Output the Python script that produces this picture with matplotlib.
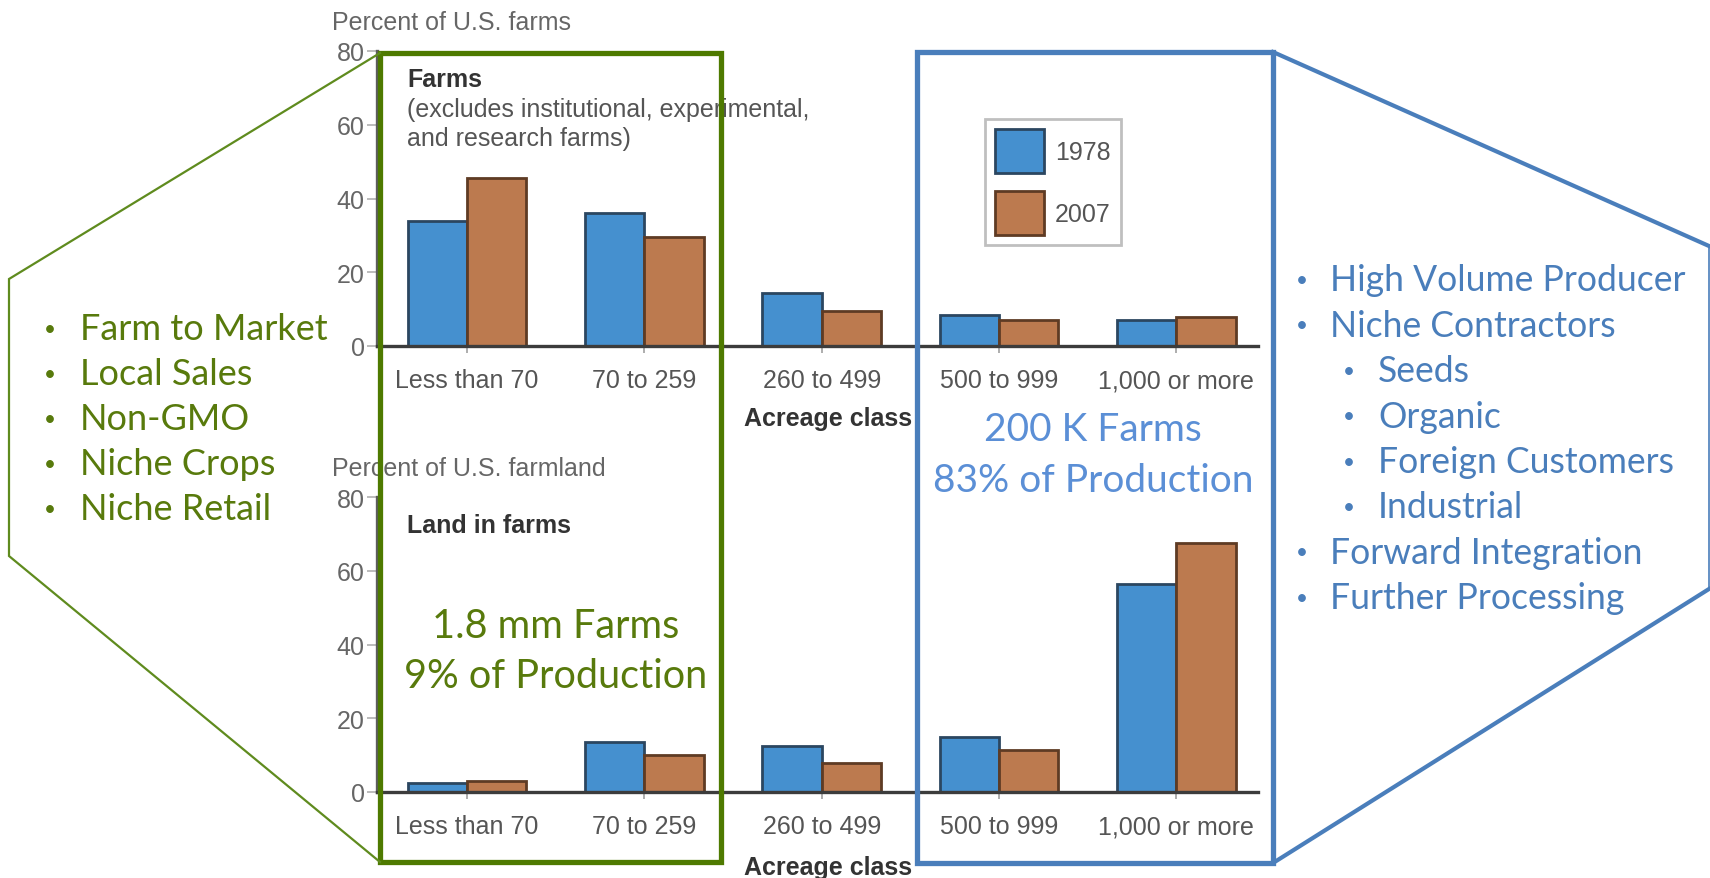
import numpy as np
import matplotlib.pyplot as plt
from matplotlib.patches import Patch, Rectangle
from matplotlib.lines import Line2D

# canvas size in pixels
W, H = 1710, 879

categories = ["Less than 70", "70 to 259", "260 to 499", "500 to 999", "1,000 or more"]
years = ["1978", "2007"]
farms_1978 = [34, 36, 14.5, 8.5, 7]
farms_2007 = [45.5, 29.5, 9.5, 7, 8]
land_1978 = [2.5, 13.5, 12.5, 15, 56.5]
land_2007 = [3, 10, 8, 11.5, 67.5]
yticks = [0, 20, 40, 60, 80]

small_points = ["Farm to Market", "Local Sales", "Non-GMO", "Niche Crops", "Niche Retail"]
large_points = ["High Volume Producer", "Niche Contractors", "Seeds", "Organic",
                "Foreign Customers", "Industrial", "Forward Integration", "Further Processing"]
large_levels = [0, 0, 1, 1, 1, 1, 0, 0]

BLUE, BLUE_EDGE = "#4590cf", "#2b4660"
BROWN, BROWN_EDGE = "#bc7a4f", "#5e3b24"
GREEN = "#4e7a00"
GREEN_TXT = "#587a0c"
NAVY = "#4a7ebb"
LIGHT_BLUE_TXT = "#5b8fd6"
CHART_FONT = "Liberation Sans"
SLIDE_FONT = "Lato"
FS = 18

fig = plt.figure(figsize=(W / 100, H / 100), dpi=100)


def fx(x):
    return x / W


def fy(y):
    return 1 - y / H


def panel(top, bottom, v1, v2, ylabel, xlabel_pad):
    ax = fig.add_axes([fx(377), fy(bottom), (1258 - 377) / W, (bottom - top) / H])
    x = np.arange(len(categories))
    w = 0.335
    ax.bar(x - w / 2, v1, w, color=BLUE, edgecolor=BLUE_EDGE, linewidth=2, label=years[0])
    ax.bar(x + w / 2, v2, w, color=BROWN, edgecolor=BROWN_EDGE, linewidth=2, label=years[1])
    ax.set_xlim(-0.508, 4.461)
    ax.set_ylim(0, 80)
    ax.set_yticks(yticks)
    ax.set_xticks(x)
    ax.set_xticklabels(categories)
    for s in ["top", "right"]:
        ax.spines[s].set_visible(False)
    ax.spines["left"].set_color("#5c5c5c")
    ax.spines["left"].set_linewidth(2.4)
    ax.spines["bottom"].set_color("#3c3c3c")
    ax.spines["bottom"].set_linewidth(2.4)
    ax.tick_params(axis="y", length=7, width=1.2, color="#b0b0b0", pad=2,
                   labelsize=FS, labelcolor="#666666")
    ax.tick_params(axis="x", length=5, width=1.2, color="#a0a0a0", pad=11,
                   labelsize=FS, labelcolor="#555555")
    for t in ax.get_xticklabels() + ax.get_yticklabels():
        t.set_fontfamily(CHART_FONT)
    ax.set_xlabel("Acreage class", fontsize=FS, fontweight="bold", color="#333333",
                  fontfamily=CHART_FONT, x=0.512, labelpad=xlabel_pad)
    ax.text(-0.051, 1.098, ylabel, transform=ax.transAxes, ha="left", va="center",
            fontsize=FS, color="#666666", fontfamily=CHART_FONT)
    ax.patch.set_alpha(0)
    return ax


ax1 = panel(52, 347, farms_1978, farms_2007, "Percent of U.S. farms", 10)
ax2 = panel(498, 793, land_1978, land_2007, "Percent of U.S. farmland", 12)

ax1.text(0.034, 0.905, "Farms", transform=ax1.transAxes, fontsize=FS, fontweight="bold",
         color="#333333", fontfamily=CHART_FONT, va="center")
ax1.text(0.034, 0.753, "(excludes institutional, experimental,\nand research farms)",
         transform=ax1.transAxes, fontsize=FS, color="#555555", fontfamily=CHART_FONT,
         va="center", linespacing=1.25)
ax2.text(0.034, 0.905, "Land in farms", transform=ax2.transAxes, fontsize=FS,
         fontweight="bold", color="#333333", fontfamily=CHART_FONT, va="center")

handles = [Patch(facecolor=BLUE, edgecolor=BLUE_EDGE, linewidth=2, label=years[0]),
           Patch(facecolor=BROWN, edgecolor=BROWN_EDGE, linewidth=2, label=years[1])]
leg = ax1.legend(handles=handles, loc="upper left", bbox_to_anchor=(fx(985), fy(120)),
                 bbox_transform=fig.transFigure, fancybox=False, frameon=True,
                 prop={"family": CHART_FONT, "size": FS}, handlelength=1.95,
                 handleheight=2.35, labelspacing=0.7, borderpad=0.4,
                 handletextpad=0.45, borderaxespad=0)
leg.get_frame().set_edgecolor("#b0b0b0")
leg.get_frame().set_linewidth(2)
for t in leg.get_texts():
    t.set_color("#555555")


def line(xs, ys, color, lw):
    fig.add_artist(Line2D([fx(v) for v in xs], [fy(v) for v in ys], color=color,
                          linewidth=lw, transform=fig.transFigure, zorder=5,
                          solid_joinstyle="miter"))


def box(x0, y0, x1, y1, color, lw):
    fig.add_artist(Rectangle((fx(x0), fy(y1)), fx(x1) - fx(x0), fy(y0) - fy(y1),
                             fill=False, edgecolor=color, linewidth=lw,
                             transform=fig.transFigure, zorder=5))


# outline around the small-farm groups and its callout
box(380, 54, 721, 863, GREEN, 3.8)
line([380, 9, 9, 380], [54, 280, 557, 863], "#5f8b1e", 1.6)

# outline around the large-farm groups and its callout
box(917, 53, 1273, 864, NAVY, 3.8)
line([1273, 1709], [53, 247], NAVY, 3)
line([1273, 1709], [864, 590], NAVY, 3)
line([1709, 1709], [247, 590], NAVY, 1.2)

for i, s in enumerate(small_points):
    y = 330 + 45 * i
    fig.text(fx(50), fy(y), "•", fontsize=15, color=GREEN_TXT, ha="center", va="center",
             fontfamily=SLIDE_FONT)
    fig.text(fx(80), fy(y), s, fontsize=26, color=GREEN_TXT, ha="left", va="center",
             fontfamily=SLIDE_FONT)

for i, (s, lvl) in enumerate(zip(large_points, large_levels)):
    y = 281 + 45.4 * i
    bx = 1302 + 47 * lvl
    tx = 1330 + 48 * lvl
    fig.text(fx(bx), fy(y), "•", fontsize=15, color=NAVY, ha="center", va="center",
             fontfamily=SLIDE_FONT)
    fig.text(fx(tx), fy(y), s, fontsize=25.6, color=NAVY, ha="left", va="center",
             fontfamily=SLIDE_FONT)

fig.text(fx(556), fy(627), "1.8 mm Farms", fontsize=28.5, color=GREEN_TXT, ha="center",
         va="center", fontfamily=SLIDE_FONT)
fig.text(fx(556), fy(676), "9% of Production", fontsize=28.5, color=GREEN_TXT, ha="center",
         va="center", fontfamily=SLIDE_FONT)
fig.text(fx(1093), fy(430), "200 K Farms", fontsize=28, color=LIGHT_BLUE_TXT, ha="center",
         va="center", fontfamily=SLIDE_FONT)
fig.text(fx(1093), fy(481), "83% of Production", fontsize=28, color=LIGHT_BLUE_TXT,
         ha="center", va="center", fontfamily=SLIDE_FONT)

fig.savefig("out.png", dpi=100)
